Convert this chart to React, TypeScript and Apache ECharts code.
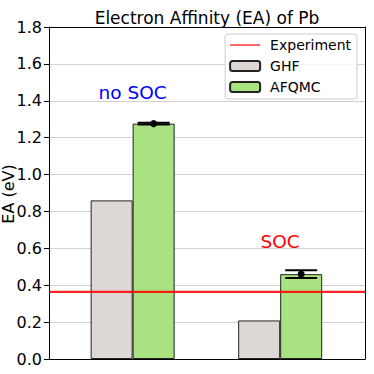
import React, { useEffect, useRef } from "react";
import * as echarts from "echarts";

const groups = [0, 1];
const groupLabels = ["no SOC", "SOC"];
const labelValues = [1.444, 0.635];
const labelColors = ["#0000ff", "#ff0000"];
const ghf = [0.86, 0.209];
const afqmc = [1.276, 0.46];
const afqmcErr = [0.005, 0.021];
const experiment = 0.364;
const yTicks = [0, 0.2, 0.4, 0.6, 0.8, 1.0, 1.2, 1.4, 1.6, 1.8];

const X_MIN = -0.567;
const X_MAX = 1.575;
const BAR_W = 42;
const FONT = "DejaVu Sans";

export default function App() {
  const ref = useRef<HTMLDivElement>(null);
  useEffect(() => {
    if (!ref.current) return;
    const chart = echarts.init(ref.current, null, { renderer: "svg" });
    const option: any = {
      animation: false,
      textStyle: { fontFamily: FONT },
      graphic: [
        {
          type: "text",
          x: 207,
          y: 18,
          style: {
            text: "Electron Affinity (EA) of Pb",
            fontFamily: FONT,
            fontSize: 17,
            fill: "#000",
            textAlign: "center",
            textVerticalAlign: "middle",
          },
        },
        {
          type: "text",
          x: 8,
          y: 194,
          rotation: Math.PI / 2,
          style: {
            text: "EA (eV)",
            fontFamily: FONT,
            fontSize: 16,
            fill: "#000",
            textAlign: "center",
            textVerticalAlign: "middle",
          },
        },
      ],
      grid: { left: 49, top: 27, width: 316, height: 332, outerBoundsMode: "none", containLabel: false },
      legend: {
        orient: "vertical",
        right: 17,
        top: 34,
        padding: [4, 6, 5, 4],
        itemWidth: 30,
        itemHeight: 10,
        itemGap: 7,
        borderColor: "#cccccc",
        borderWidth: 1,
        borderRadius: 3,
        backgroundColor: "rgba(255,255,255,0.8)",
        textStyle: { fontFamily: FONT, fontSize: 14, color: "#000", lineHeight: 14, padding: [0, 0, 0, 5] },
        data: [
          { name: "Experiment", itemStyle: { opacity: 0 }, lineStyle: { width: 1.2, color: "#ff0000" } },
          { name: "GHF" },
          { name: "AFQMC" },
        ],
      },
      xAxis: [
        {
          type: "value",
          min: X_MIN,
          max: X_MAX,
          axisLine: { show: true, onZero: false, lineStyle: { color: "#000", width: 1 } },
          axisTick: { show: false },
          axisLabel: { show: false },
          splitLine: { show: false },
        },
        {
          type: "value",
          position: "top",
          min: X_MIN,
          max: X_MAX,
          axisLine: { show: true, onZero: false, lineStyle: { color: "#000", width: 1 } },
          axisTick: { show: false },
          axisLabel: { show: false },
          splitLine: { show: false },
        },
      ],
      yAxis: [
        {
          type: "value",
          min: yTicks[0],
          max: yTicks[yTicks.length - 1],
          interval: 0.2,
          axisLine: { show: true, onZero: false, lineStyle: { color: "#000", width: 1 } },
          axisTick: { show: true, length: 5, lineStyle: { color: "#000" } },
          axisLabel: {
            fontFamily: FONT,
            fontSize: 16,
            color: "#000",
            margin: 7,
            formatter: (v: number) => v.toFixed(1),
          },
          splitLine: { show: true, lineStyle: { color: "#d2d2d2", width: 1 } },
        },
        {
          type: "value",
          position: "right",
          min: yTicks[0],
          max: yTicks[yTicks.length - 1],
          interval: 0.2,
          axisLine: { show: true, onZero: false, lineStyle: { color: "#000", width: 1 } },
          axisTick: { show: false },
          axisLabel: { show: false },
          splitLine: { show: false },
        },
      ],
      series: [
        {
          name: "GHF",
          type: "bar",
          barWidth: BAR_W,
          barGap: "0%",
          data: groups.map((g, i) => [g, ghf[i]]),
          itemStyle: { color: "#ddd8d4", borderColor: "#222", borderWidth: 1 },
        },
        {
          name: "AFQMC",
          type: "bar",
          barWidth: BAR_W,
          barGap: "0%",
          data: groups.map((g, i) => [g, afqmc[i]]),
          itemStyle: { color: "#a8e281", borderColor: "#222", borderWidth: 1 },
        },
        {
          name: "Experiment",
          type: "line",
          symbol: "none",
          z: 5,
          data: [
            [X_MIN, experiment],
            [X_MAX, experiment],
          ],
          lineStyle: { color: "rgba(255,0,0,0.85)", width: 2.2 },
          itemStyle: { color: "#ff0000" },
        },
        {
          name: "err",
          type: "custom",
          z: 6,
          data: groups.map((g, i) => [g, afqmc[i], afqmcErr[i]]),
          renderItem: (params: any, api: any) => {
            const x = api.value(0);
            const y = api.value(1);
            const e = api.value(2);
            const c = api.coord([x, y]);
            const t = api.coord([x, y + e]);
            const b = api.coord([x, y - e]);
            const cx = c[0] + BAR_W / 2;
            const style = { stroke: "#000", lineWidth: 2 };
            return {
              type: "group",
              children: [
                { type: "line", shape: { x1: cx, y1: t[1], x2: cx, y2: b[1] }, style },
                { type: "line", shape: { x1: cx - 16, y1: t[1], x2: cx + 16, y2: t[1] }, style },
                { type: "line", shape: { x1: cx - 16, y1: b[1], x2: cx + 16, y2: b[1] }, style },
                { type: "circle", shape: { cx, cy: c[1], r: 3.5 }, style: { fill: "#000" } },
              ],
            };
          },
        },
        {
          name: "labels",
          type: "scatter",
          symbolSize: 0,
          silent: true,
          z: 7,
          itemStyle: { opacity: 1 },
          data: groups.map((g, i) => ({
            value: [g, labelValues[i]],
            label: {
              show: true,
              position: "inside",
              formatter: groupLabels[i],
              fontFamily: FONT,
              fontSize: 18.5,
              color: labelColors[i],
              opacity: 1,
            },
          })),
        },
      ],
    };
    chart.setOption(option);
    return () => chart.dispose();
  }, []);
  return <div ref={ref} style={{ width: 374, height: 374, position: "absolute", left: 0, top: 0 }} />;
}
